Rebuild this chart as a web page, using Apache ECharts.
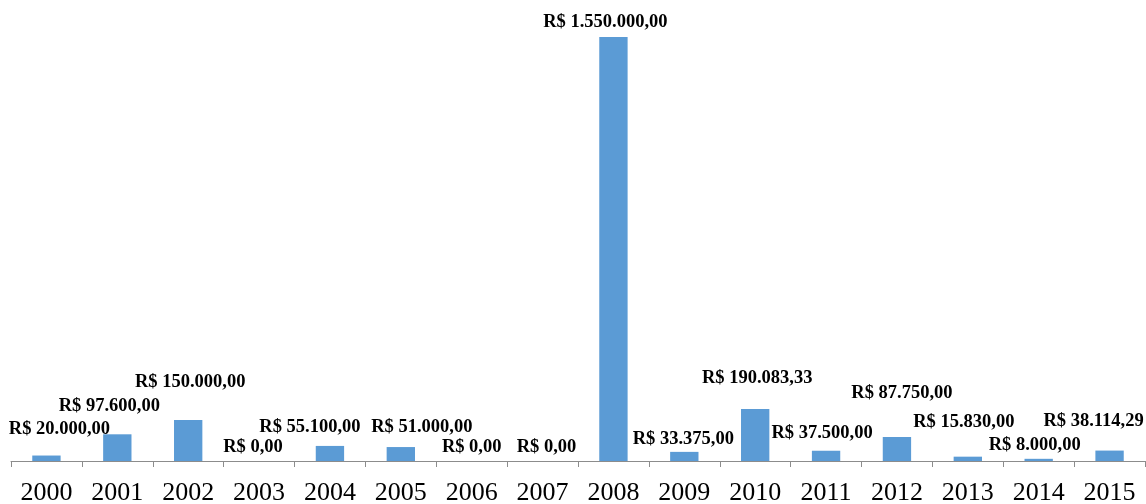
<!DOCTYPE html>
<html>
<head>
<meta charset="utf-8">
<script src="https://cdn.jsdelivr.net/npm/echarts@6/dist/echarts.min.js"></script>
<style>
  html, body { margin: 0; padding: 0; background: #fff; }
  #chart { width: 1146px; height: 504px; }
</style>
</head>
<body>
<div id="chart"></div>
<script>
// Annual amounts in R$, one bar per year
const years = ['2000','2001','2002','2003','2004','2005','2006','2007',
               '2008','2009','2010','2011','2012','2013','2014','2015'];
const amounts = [20000, 97600, 150000, 0, 55100, 51000, 0, 0,
                 1550000, 33375, 190083.33, 37500, 87750, 15830, 8000, 38114.29];

// Hand-placed nudges [dx, dy] for each value label, in pixels
const labelNudges = [
  [13, -16], [-8, -18], [2, -28], [-6, -4], [-20, -9], [21, -10], [0, -4], [4, -4],
  [-8, -5], [-1, -3], [2, -21], [-4, -8], [5, -34], [-4, -24], [-4, -4], [-16, -19]
];

// Brazilian currency style: R$ 1.234.567,89
function brl(v) {
  const parts = v.toFixed(2).split('.');
  const intPart = parts[0].replace(/\B(?=(\d{3})+(?!\d))/g, '.');
  return 'R$ ' + intPart + ',' + parts[1];
}

const seriesData = amounts.map((v, i) => ({
  value: v,
  label: { offset: labelNudges[i] }
}));

const chart = echarts.init(document.getElementById('chart'));
chart.setOption({
  animation: false,
  grid: { left: 11, right: 1, top: 23.3, bottom: 43, containLabel: false, outerBoundsMode: 'none' },
  xAxis: {
    type: 'category',
    data: years,
    axisLine: { lineStyle: { color: '#8c8c8c', width: 1 } },
    axisTick: { show: true, length: 6, lineStyle: { color: '#8c8c8c' } },
    axisLabel: {
      color: '#000',
      fontFamily: 'Liberation Serif',
      fontSize: 26,
      margin: 19,
      interval: 0
    }
  },
  yAxis: {
    type: 'value',
    min: 0,
    max: 1600000,
    show: false,
    splitLine: { show: false }
  },
  series: [{
    type: 'bar',
    data: seriesData,
    barWidth: '40%',
    itemStyle: { color: '#5b9bd5' },
    label: {
      show: true,
      position: 'top',
      distance: 0,
      color: '#000',
      fontFamily: 'Liberation Serif',
      fontWeight: 'bold',
      fontSize: 18.5,
      lineHeight: 20,
      formatter: p => brl(p.value)
    }
  }]
});
</script>
</body>
</html>
